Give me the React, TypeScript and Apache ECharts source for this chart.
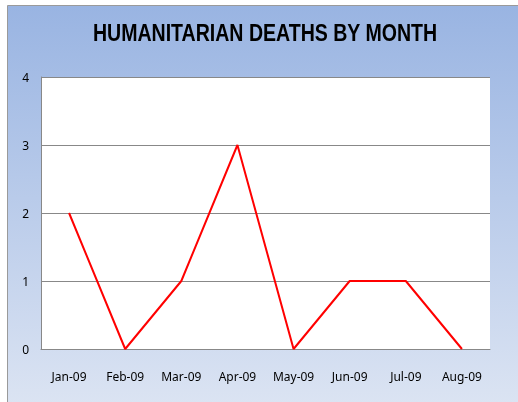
import React, { useEffect, useRef } from "react";
import * as echarts from "echarts";

const categories = ["Jan-09", "Feb-09", "Mar-09", "Apr-09", "May-09", "Jun-09", "Jul-09", "Aug-09"];
const deaths = [2, 0, 1, 3, 0, 1, 1, 0];
const yTicks = { min: 0, max: 4, interval: 1 };
const title = "HUMANITARIAN DEATHS BY MONTH";

export default function App() {
  const ref = useRef<HTMLDivElement>(null);
  useEffect(() => {
    if (!ref.current) return;
    const chart = echarts.init(ref.current, null, { renderer: "svg" });
    chart.setOption({
      animation: false,
      graphic: [
        {
          type: "rect",
          z: -10,
          silent: true,
          shape: { x: 7.5, y: 5.5, width: 520, height: 410 },
          style: {
            fill: new echarts.graphic.LinearGradient(0, 0, 0, 1, [
              { offset: 0, color: "#99b4e2" },
              { offset: 1, color: "#dde5f3" },
            ]),
            stroke: "#9a9a9a",
            lineWidth: 1,
          },
        },
        {
          type: "text",
          x: 265,
          y: 33,
          scaleX: 0.815,
          originX: 0,
          style: {
            text: title,
            x: 0,
            y: 0,
            align: "center",
            verticalAlign: "middle",
            fontFamily: "'Liberation Sans', Arial, sans-serif",
            fontWeight: "bold",
            fontSize: 24,
            fill: "#000",
          },
        },
      ],
      grid: {
        left: 41,
        top: 77,
        width: 449,
        height: 272,
        show: true,
        backgroundColor: "#ffffff",
        borderWidth: 0,
      },
      xAxis: {
        type: "category",
        data: categories,
        boundaryGap: true,
        axisLine: { show: true, lineStyle: { color: "#888888", width: 1 } },
        axisTick: { show: false },
        axisLabel: {
          margin: 21,
          fontFamily: "'Noto Sans', sans-serif",
          fontSize: 12,
          color: "#000",
        },
      },
      yAxis: {
        type: "value",
        min: yTicks.min,
        max: yTicks.max,
        interval: yTicks.interval,
        axisLine: { show: true, lineStyle: { color: "#888888", width: 1 } },
        axisTick: { show: false },
        splitLine: { show: true, lineStyle: { color: "#888888", width: 1 } },
        axisLabel: {
          margin: 12,
          fontFamily: "'Noto Sans', sans-serif",
          fontSize: 12,
          color: "#000",
        },
      },
      series: [
        {
          type: "line",
          data: deaths,
          symbol: "none",
          lineStyle: { color: "#ff0000", width: 2 },
        },
      ],
    });
    return () => chart.dispose();
  }, []);
  return (
    <div
      ref={ref}
      style={{ position: "fixed", left: 0, top: 0, width: 518, height: 402 }}
    />
  );
}
